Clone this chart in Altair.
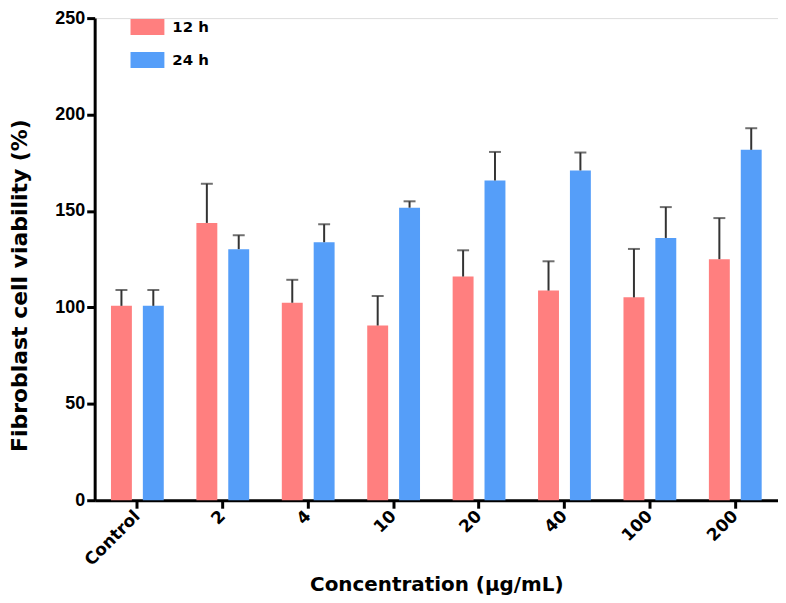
import altair as alt
import pandas as pd

categories = ["Control", "2", "4", "10", "20", "40", "100", "200"]
groups = ["12 h", "24 h"]
mean_12 = [100.8, 143.8, 102.4, 90.6, 116.0, 108.7, 105.2, 125.0]
sd_12 = [8.2, 20.3, 11.9, 15.3, 13.6, 15.2, 25.1, 21.3]
mean_24 = [100.8, 130.2, 133.8, 151.7, 165.8, 171.0, 136.0, 181.7]
sd_24 = [8.2, 7.2, 9.3, 3.3, 14.8, 9.3, 16.0, 11.2]
colors = ["#FF7F7F", "#559EF9"]

rows = []
for i, c in enumerate(categories):
    rows.append({"cat": c, "grp": groups[0], "mean": mean_12[i], "top": mean_12[i] + sd_12[i]})
    rows.append({"cat": c, "grp": groups[1], "mean": mean_24[i], "top": mean_24[i] + sd_24[i]})
df = pd.DataFrame(rows)

FONT = "Liberation Sans"
WIDE = "DejaVu Sans"

x = alt.X("cat:N", sort=categories, title="Concentration (μg/mL)",
          scale=alt.Scale(paddingInner=0, paddingOuter=0),
          axis=alt.Axis(labelAngle=-45, labelFontSize=17, labelFontWeight="bold",
                        labelFont=WIDE, labelColor="black", labelAlign="right",
                        labelBaseline="middle", labelPadding=5,
                        titleFontSize=20, titleFontWeight="bold", titleFont=WIDE,
                        titleColor="black", titlePadding=6,
                        domainColor="black", domainWidth=3, tickColor="black",
                        tickWidth=3, tickSize=8))
xoff = alt.XOffset("grp:N", sort=groups,
                   scale=alt.Scale(paddingInner=0, paddingOuter=0.34))

y_scale = alt.Scale(domain=[0, 250], nice=False)

bars = alt.Chart(df).mark_bar(size=21).encode(
    x=x,
    xOffset=xoff,
    y=alt.Y("mean:Q", scale=y_scale, title="Fibroblast cell viability (%)",
            axis=alt.Axis(values=[0, 50, 100, 150, 200, 250], grid=False,
                          labelFontSize=18, labelFontWeight="bold", labelFont=FONT,
                          labelColor="black", labelPadding=2,
                          titleFontSize=22, titleFontWeight="bold", titleFont=WIDE,
                          titleColor="black", titlePadding=23, titleY=268,
                          domainColor="black", domainWidth=3, tickColor="black",
                          tickWidth=3, tickSize=8)),
    color=alt.Color("grp:N", sort=groups,
                    scale=alt.Scale(domain=groups, range=colors),
                    legend=alt.Legend(title=None, orient="none", legendX=36, legendY=-8,
                                      symbolType="M-1,-0.47L1,-0.47L1,0.47L-1,0.47Z",
                                      symbolSize=1156,
                                      symbolStrokeWidth=0, labelFontSize=15,
                                      labelFontWeight="bold", labelFont=WIDE,
                                      labelColor="black", rowPadding=8,
                                      labelOffset=8)),
)

rules = alt.Chart(df).mark_rule(color="#333333", strokeWidth=2).encode(
    x=alt.X("cat:N", sort=categories),
    xOffset=xoff,
    y=alt.Y("mean:Q", scale=y_scale),
    y2="top:Q",
)

caps = alt.Chart(df).mark_tick(color="#333333", thickness=2, size=12, orient="horizontal").encode(
    x=alt.X("cat:N", sort=categories),
    xOffset=xoff,
    y=alt.Y("top:Q", scale=y_scale),
)

chart = alt.layer(bars, rules, caps).properties(
    width=686, height=484,
).configure_view(stroke=None).configure(padding={"left": 0, "top": 0, "right": 0, "bottom": 0})

chart.save("out.html", embed_options={"renderer": "svg", "actions": False})
